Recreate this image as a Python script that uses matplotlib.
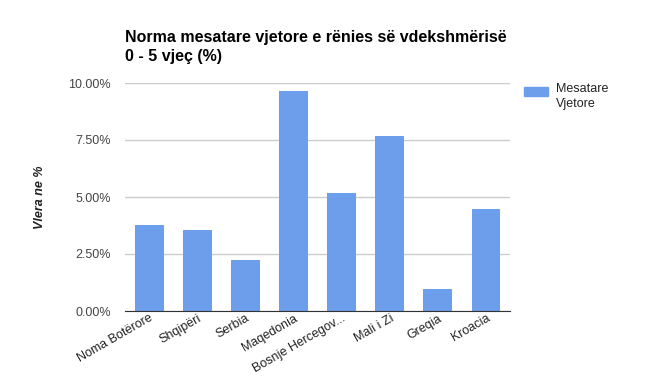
import numpy as np
import matplotlib
matplotlib.use("Agg")
import matplotlib.pyplot as plt
from matplotlib.ticker import FuncFormatter

plt.rcParams['font.family'] = ['Liberation Sans', 'DejaVu Sans']

# data
categories = ["Noma Botërore", "Shqipëri", "Serbia", "Maqedonia",
              "Bosnje Hercegov...", "Mali i Zi", "Greqia", "Kroacia"]
values = [3.77, 3.55, 2.24, 9.65, 5.18, 7.68, 0.96, 4.47]
yticks = [0, 2.5, 5, 7.5, 10]
series_name = "Mesatare\nVjetore"
title = "Norma mesatare vjetore e rënies së vdekshmërisë\n0 - 5 vjeç (%)"

fig = plt.figure(figsize=(6.57, 3.82), dpi=100)
ax = fig.add_axes([125 / 657, 1 - 311 / 382, 385 / 657, 228 / 382])

x = np.arange(len(categories))
ax.bar(x, values, width=0.6, color="#6d9eeb", zorder=3)

ax.set_xlim(-0.5, len(categories) - 0.5)
ax.set_ylim(0, 10)
ax.set_yticks(yticks)
ax.yaxis.set_major_formatter(FuncFormatter(lambda v, p: f"{v:.2f}%"))
ax.grid(axis="y", color="#cccccc", linewidth=1, zorder=0)
ax.tick_params(axis="y", length=0, pad=10, labelsize=9, labelcolor="#444444")
ax.tick_params(axis="x", length=0, pad=1, labelsize=9, labelcolor="#222222")
ax.set_xticks(x)
ax.set_xticklabels(categories, rotation=30, ha="right", rotation_mode="anchor")
for s in ["top", "right", "left"]:
    ax.spines[s].set_visible(False)
ax.spines["bottom"].set_color("#333333")
ax.spines["bottom"].set_zorder(4)

ax.set_ylabel("Vlera ne %", fontsize=9, fontweight="bold", fontstyle="italic",
              color="#222222", labelpad=16)

fig.text(125 / 657, 1 - 30 / 382, title, fontsize=11.5, fontweight="bold",
         ha="left", va="top", linespacing=1.3)

# legend
fig.patches.append(plt.Rectangle((524 / 657, 1 - 96 / 382), 24 / 657, 9 / 382,
                                  transform=fig.transFigure, color="#6d9eeb"))
fig.text(556 / 657, 1 - 83 / 382, series_name, fontsize=9, color="#222222",
         ha="left", va="top", linespacing=1.35)

fig.savefig("out.png", dpi=100)
